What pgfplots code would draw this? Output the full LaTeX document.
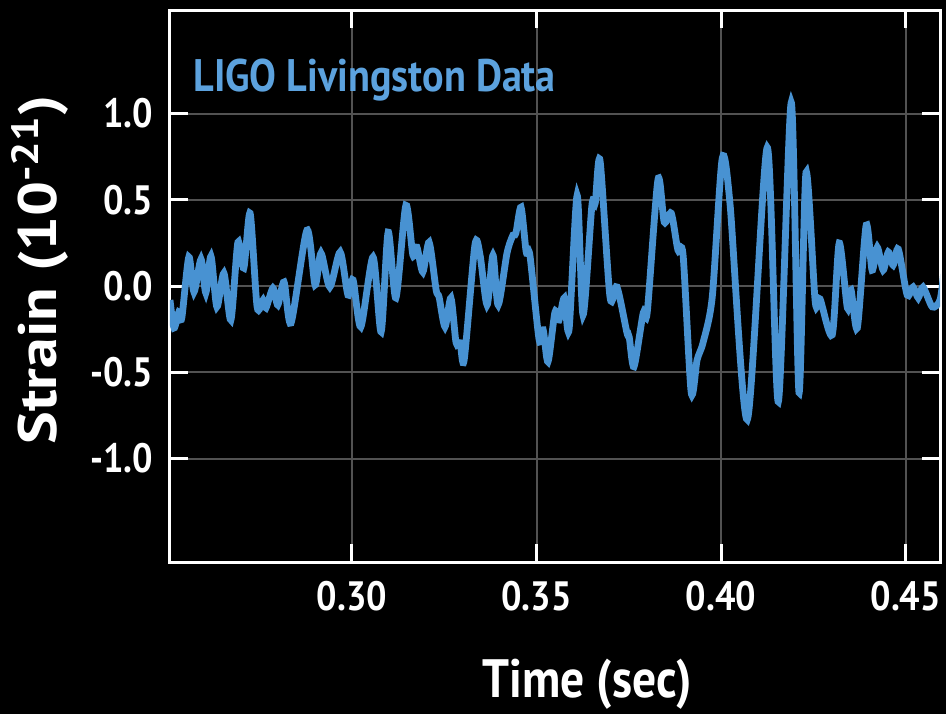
\documentclass[border=0pt]{standalone}
\usepackage{graphicx}
\usepackage{pgfplots}
\pgfplotsset{compat=1.18}
\usepackage{fontspec}
\setmainfont[FakeStretch=0.88]{PT Sans}
\definecolor{ligoblue}{RGB}{72,146,210}
\definecolor{legblue}{RGB}{92,162,222}
\definecolor{gridgray}{RGB}{82,82,82}
\begin{document}
\begin{tikzpicture}
\path[use as bounding box, fill=black] (-85pt,-76pt) rectangle (388pt,281pt);
\begin{axis}[
  at={(0pt,0pt)}, anchor=south west,
  scale only axis, width=385pt, height=276pt,
  xmin=0.2507, xmax=0.4593, ymin=-1.6, ymax=1.6,
  axis line style={white, line width=1.5pt},
  xtick={0.30,0.35,0.40,0.45}, xticklabels={0.30,0.35,0.40,0.45},
  ytick={-1,-0.5,0,0.5,1}, yticklabels={-1.0,-0.5,0.0,0.5,1.0},
  tick align=inside, major tick length=9pt,
  tick style={white, line width=1.5pt},
  xtick pos=both, ytick pos=both,
  grid=major, major grid style={gridgray, line width=1pt},
  tick label style={font=\fontsize{20.5}{22}\selectfont\bfseries, text=white},
  yticklabel style={xshift=-5pt},
  xticklabel style={yshift=-6pt},
  xlabel={Time (sec)},
  ylabel={\scalebox{1.3}[1.0]{Strain (10\textsuperscript{-21})}},
  label style={font=\fontsize{27}{30}\selectfont\bfseries, text=white},
  xlabel style={at={(axis description cs:0.5416,0)}, anchor=center, yshift=-61pt},
  ylabel style={at={(axis description cs:-0.169,0.529)}, anchor=center},
]
\addplot[ligoblue, line width=3.4pt, smooth, tension=0.45] coordinates {
(0.2507,-0.081) (0.2518,-0.243) (0.2531,-0.150) (0.2539,-0.185) (0.2558,0.168)
(0.2572,-0.035) (0.2591,0.156) (0.2604,-0.040) (0.2618,0.173) (0.2634,-0.121)
(0.2653,0.075) (0.2672,-0.197) (0.2691,0.254) (0.2707,0.104) (0.2724,0.422)
(0.2743,-0.121) (0.2759,-0.081) (0.2767,-0.127) (0.2786,-0.012) (0.2799,-0.110)
(0.2816,0.023) (0.2835,-0.214) (0.2878,0.324) (0.2900,0.006) (0.2916,0.191)
(0.2940,-0.006) (0.2968,0.197) (0.2989,-0.052) (0.3003,0.035) (0.3024,-0.237)
(0.3057,0.168) (0.3079,-0.266) (0.3098,0.312) (0.3119,-0.069) (0.3146,0.468)
(0.3165,0.179) (0.3176,0.225) (0.3192,0.081) (0.3209,0.254) (0.3228,-0.023)
(0.3236,-0.064) (0.3252,-0.237) (0.3268,-0.069) (0.3282,-0.329) (0.3293,-0.329)
(0.3304,-0.428) (0.3333,0.237) (0.3347,0.179) (0.3366,-0.110) (0.3382,0.179)
(0.3396,-0.110) (0.3420,0.191) (0.3436,0.295) (0.3444,0.306) (0.3458,0.457)
(0.3472,0.197) (0.3482,0.179) (0.3507,-0.312) (0.3518,-0.254) (0.3531,-0.439)
(0.3550,-0.150) (0.3561,-0.197) (0.3575,-0.069) (0.3588,-0.254) (0.3610,0.526)
(0.3626,-0.168) (0.3650,0.468) (0.3659,0.480) (0.3672,0.728) (0.3699,-0.064)
(0.3718,-0.006) (0.3745,-0.272) (0.3751,-0.295) (0.3764,-0.468) (0.3789,-0.156)
(0.3800,-0.150) (0.3829,0.618) (0.3846,0.370) (0.3865,0.422) (0.3883,0.208)
(0.3897,0.179) (0.3919,-0.618) (0.3935,-0.428) (0.3951,-0.329) (0.3976,-0.064)
(0.4003,0.740) (0.4024,0.480) (0.4071,-0.775) (0.4125,0.803) (0.4155,-0.671)
(0.4190,1.064) (0.4211,-0.618) (0.4230,0.659) (0.4255,-0.092) (0.4268,-0.075)
(0.4301,-0.283) (0.4320,0.249) (0.4342,-0.127) (0.4352,-0.023) (0.4369,-0.243)
(0.4393,0.353) (0.4409,0.092) (0.4423,0.225) (0.4439,0.092) (0.4453,0.197)
(0.4466,0.121) (0.4480,0.214) (0.4504,-0.052) (0.4520,-0.006) (0.4534,-0.069)
(0.4547,-0.006) (0.4572,-0.121) (0.4593,-0.081) (0.4604,0.092)
};
\node[anchor=west, text=legblue, font=\fontsize{22.8}{25}\selectfont\bfseries, inner sep=0pt] at (rel axis cs:0.030,0.873) {LIGO Livingston Data};
\end{axis}
\end{tikzpicture}
\end{document}
